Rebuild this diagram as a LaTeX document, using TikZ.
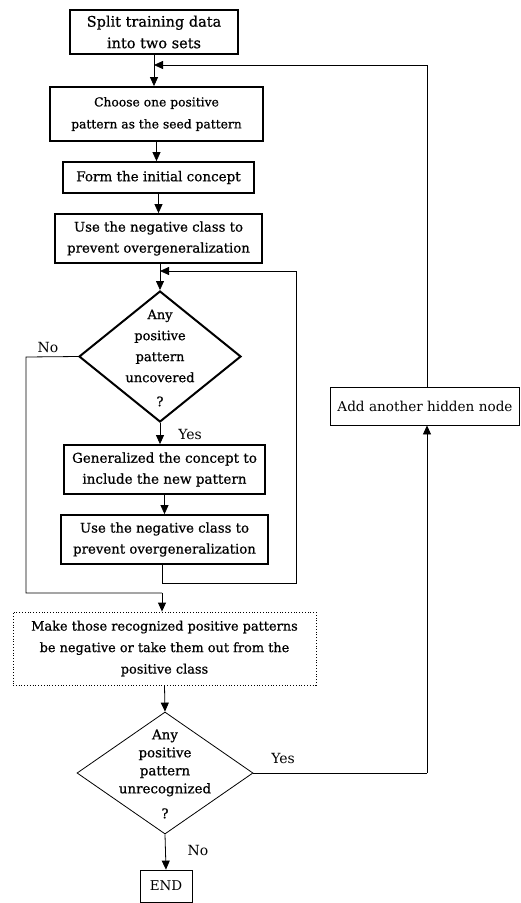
\documentclass[tikz,border=0pt]{standalone}
\usepackage{fontspec}
\setmainfont{DejaVu Serif}
\newfontfamily\semib{DejaVu Serif}[FakeBold=0.7]
\usetikzlibrary{shapes.geometric,arrows.meta}
\newcommand{\fs}[2]{\fontsize{#1}{#2}\selectfont}
\begin{document}
\begin{tikzpicture}[x=1pt,y=-1pt,
  font=\fs{13}{21},
  thickbox/.style={draw, line width=1.8pt, rectangle, inner sep=0pt, align=center},
  thinbox/.style={draw, line width=0.8pt, rectangle, inner sep=0pt, align=center},
  dotbox/.style={draw, line width=0.8pt, dotted, rectangle, inner sep=0pt, align=center},
  dia/.style={draw, diamond, inner sep=0pt},
  conn/.style={line width=0.8pt},
  arr/.style={conn, -{Triangle[length=9pt,width=8pt]}},
  lbl/.style={inner sep=0pt, font=\fs{14}{20}}]
\useasboundingbox (0,0) rectangle (520,903);

\node[thickbox, minimum width=168pt, minimum height=44pt, font=\semib\fs{14.5}{21.5}] (b1) at (154,32) {Split training data\\into two sets};
\node[thickbox, minimum width=213pt, minimum height=54pt, font=\semib\fs{12.3}{22}] (b2) at (156.5,114) {Choose one positive\\pattern as the seed pattern};
\node[thickbox, minimum width=191pt, minimum height=31pt, font=\semib\fs{13.5}{21}] (b3) at (158.5,177.5) {Form the initial concept};
\node[thickbox, minimum width=207pt, minimum height=49pt, font=\semib\fs{13.3}{21}] (b4) at (158.5,238.5) {Use the negative class to\\prevent overgeneralization};
\node[dia, line width=2pt, minimum width=162pt, minimum height=131pt] (d1) at (160,356.5) {};
\node[lbl, align=center, font=\semib\fs{13}{21}] (d1t) at (160,358) {Any\\positive\\pattern\\uncovered\\[3pt]?};
\node[thickbox, minimum width=201pt, minimum height=49pt, font=\semib\fs{13.5}{21}] (b5) at (164.5,469.5) {Generalized the concept to\\include the new pattern};
\node[thickbox, minimum width=207pt, minimum height=49pt, font=\semib\fs{13.3}{21}] (b6) at (164.5,539.5) {Use the negative class to\\prevent overgeneralization};
\node[dotbox, minimum width=303pt, minimum height=73pt, font=\semib\fs{12.9}{21.5}] (b7) at (164.5,648.5) {Make those recognized positive patterns\\be negative or take them out from the\\positive class};
\node[dia, line width=0.8pt, minimum width=176pt, minimum height=122pt] (d2) at (165,773) {};
\node[lbl, align=center, font=\semib\fs{13.4}{18}] (d2t) at (165,774) {Any\\positive\\pattern\\unrecognized\\[7pt]?};
\node[thinbox, minimum width=189pt, minimum height=38pt, font=\fs{13.6}{20}] (hid) at (425,406) {Add another hidden node};
\node[thinbox, minimum width=52pt, minimum height=32pt, font=\fs{13.5}{20}] (end) at (166,886) {END};

\coordinate (j1) at (154,65);
\coordinate (j2) at (160,271);
\coordinate (r1) at (427,65);
\coordinate (r2) at (296,271);
\coordinate (r3) at (296,583);
\coordinate (c1) at (162,583);
\coordinate (n1) at (26,357);
\coordinate (n2) at (26,593);
\coordinate (n3) at (162,593);
\coordinate (y1) at (427,773);

\draw[arr] (b1.south) -- (b1.south |- b2.north);
\draw[arr] (b2.south) -- (b2.south |- b3.north);
\draw[arr] (b3.south) -- (b3.south |- b4.north);
\draw[arr] (b4.south -| d1.north) -- (d1.north);
\draw[arr] (d1.south) -- (d1.south |- b5.north);
\draw[arr] (b5.south) -- (b5.south |- b6.north);
\draw[conn] (b6.south -| c1) -- (c1) -- (r3) -- (r2);
\draw[arr] (r2) -- (j2);
\draw[conn] (d1.west) -- (n1) -- (n2) -- (n3);
\draw[arr] (n3) -- (n3 |- b7.north);
\draw[arr] (b7.south) -- (d2.north);
\draw[conn] (d2.east) -- (y1);
\draw[arr] (y1) -- (hid.south -| y1);
\draw[conn] (hid.north -| r1) -- (r1);
\draw[arr] (r1) -- (j1);
\draw[arr] (d2.south) -- (end.north);

\node[lbl] (lno1) at (48,347) {No};
\node[lbl] (lyes1) at (190,434) {Yes};
\node[lbl] (lyes2) at (283,758) {Yes};
\node[lbl] (lno2) at (198,850) {No};
\end{tikzpicture}
\end{document}
